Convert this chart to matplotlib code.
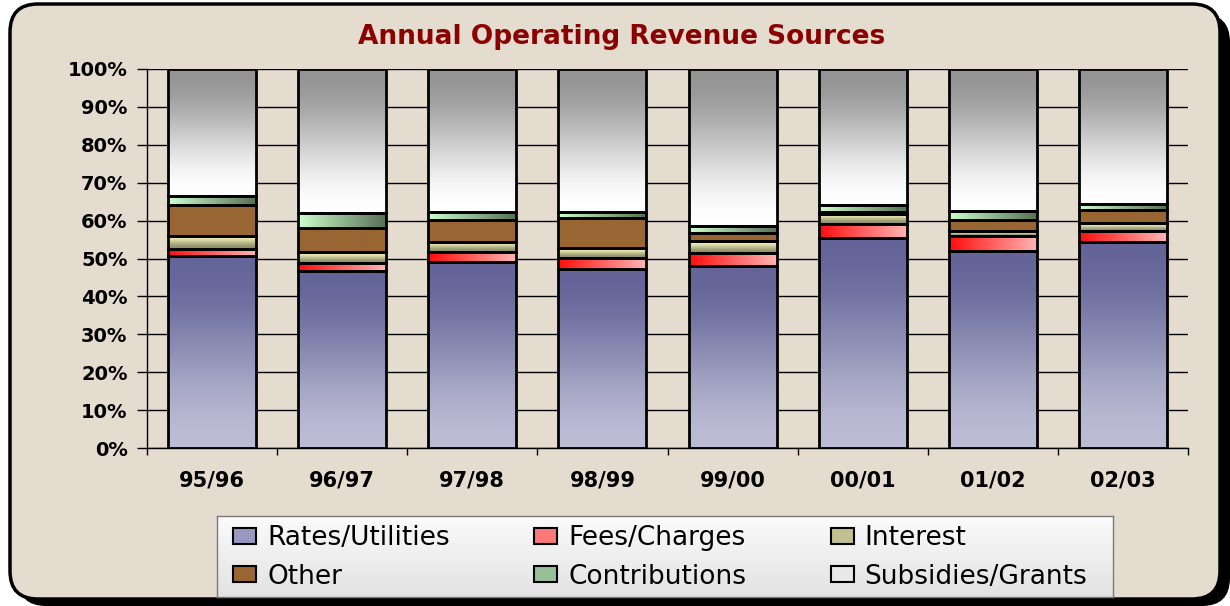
import numpy as np
import matplotlib.pyplot as plt
from matplotlib.colors import LinearSegmentedColormap
from matplotlib.patches import FancyBboxPatch, Patch
from matplotlib.transforms import IdentityTransform

# share of annual operating revenue, in percent
years = ['95/96', '96/97', '97/98', '98/99', '99/00', '00/01', '01/02', '02/03']
rates = [50.7, 46.8, 49.0, 47.2, 48.1, 55.5, 52.1, 54.3]
fees = [1.8, 1.9, 2.6, 3.0, 3.4, 3.5, 3.9, 3.0]
interest = [3.5, 2.9, 2.7, 2.6, 3.1, 2.8, 1.3, 2.0]
other = [8.1, 6.5, 5.9, 8.0, 2.2, 0.5, 2.9, 3.6]
contributions = [2.5, 4.0, 2.1, 1.5, 1.8, 1.9, 2.3, 1.4]
subsidies = [33.4, 37.9, 37.7, 37.7, 41.4, 35.8, 37.5, 35.7]

# name, values, gradient start, gradient end, direction, legend colour
series = [
    ('Rates/Utilities', rates, '#646498', '#bcbcd5', 'v', '#9898c0'),
    ('Fees/Charges', fees, '#ff0c0c', '#ffb4b4', 'h', '#ff7878'),
    ('Interest', interest, '#f6f6c0', '#8c8c66', 'v', '#c0c090'),
    ('Other', other, '#996633', '#996633', 'v', '#996633'),
    ('Contributions', contributions, '#ccffcc', '#567056', 'h', '#98c098'),
    ('Subsidies/Grants', subsidies, '#949494', '#ffffff', 'v', '#e8e8e8'),
]

W, H = 1230, 606
fig = plt.figure(figsize=(W / 100, H / 100), dpi=100)
fig.patch.set_facecolor('white')

# rounded panel with a drop shadow (pixel coordinates)
shadow = FancyBboxPatch((18, 0), 1212, 592, boxstyle='round,pad=0,rounding_size=28',
                        transform=IdentityTransform(), facecolor='black', edgecolor='none',
                        zorder=-3)
panel = FancyBboxPatch((10, 7), 1210, 595, boxstyle='round,pad=0,rounding_size=28',
                       transform=IdentityTransform(), facecolor='#e4dccf', edgecolor='black',
                       linewidth=2.5, zorder=-2)
fig.add_artist(shadow)
fig.add_artist(panel)

ax = fig.add_axes([147 / W, 1 - 448 / H, (1188 - 147) / W, (448 - 69) / H])
ax.set_facecolor('none')

t = np.linspace(0, 1, 400)
smooth = t * t * (3 - 2 * t)

x = np.arange(len(years))
bar_w = 0.676
bottom = np.zeros(len(years))
for name, vals, c0, c1, direction, _ in series:
    vals = np.array(vals, dtype=float)
    bars = ax.bar(x, vals, bar_w, bottom=bottom, facecolor='none',
                  edgecolor='black', linewidth=2, zorder=3)
    cmap = LinearSegmentedColormap.from_list(name, [c0, c1], N=512)
    if direction == 'v':
        grad = smooth.reshape(-1, 1)
    else:
        grad = t.reshape(1, -1)
    for p in bars.patches:
        x0, y0 = p.get_x(), p.get_y()
        ax.imshow(grad, extent=(x0, x0 + p.get_width(), y0, y0 + p.get_height()),
                  cmap=cmap, vmin=0, vmax=1, aspect='auto', interpolation='bilinear',
                  zorder=2)
    bottom += vals

ax.set_xlim(-0.5, len(years) - 0.5)
ax.set_ylim(0, 100)

ax.set_yticks(np.arange(0, 101, 10))
ax.set_yticklabels([f'{v}%' for v in range(0, 101, 10)])
ax.tick_params(axis='y', length=7, width=1, pad=7, labelsize=14)
for lab in ax.get_yticklabels():
    lab.set_fontweight('bold')
ax.yaxis.grid(True, color='black', linewidth=1)
ax.set_axisbelow(True)

ax.set_xticks(x)
ax.set_xticklabels(years, fontweight='bold', fontsize=15)
ax.set_xticks(np.arange(-0.5, len(years)), minor=True)
ax.tick_params(axis='x', which='major', length=0, pad=16)
ax.tick_params(axis='x', which='minor', length=5, width=1, direction='out')

for s in ['top', 'right']:
    ax.spines[s].set_visible(False)
for s in ['left', 'bottom']:
    ax.spines[s].set_linewidth(1)
    ax.spines[s].set_color('black')

fig.text(622 / W, 1 - 37 / H, 'Annual Operating Revenue Sources', ha='center', va='center',
         color='#8b0000', fontweight='bold', fontsize=19)

# legend box drawn separately (white to light grey) so its size follows the reference
lax = fig.add_axes([217 / W, 1 - 597 / H, 896 / W, 81 / H], zorder=4)
lax.imshow(t.reshape(-1, 1), cmap=LinearSegmentedColormap.from_list('lg', ['#fbfbfb', '#e2e2e2']),
           extent=(0, 1, 0, 1), aspect='auto', interpolation='bilinear')
lax.set_xticks([])
lax.set_yticks([])
for s in lax.spines.values():
    s.set_color('#7a7a7a')
    s.set_linewidth(1)

handles = {name: Patch(facecolor=lc, edgecolor='black', linewidth=1.5)
           for name, _, _, _, _, lc in series}
order = ['Rates/Utilities', 'Other', 'Fees/Charges', 'Contributions',
         'Interest', 'Subsidies/Grants']
leg = fig.legend([handles[n] for n in order], order, ncol=3, loc='upper left',
                 bbox_to_anchor=(233 / W, 1 - 525 / H),
                 fontsize=19, frameon=False, borderaxespad=0, borderpad=0,
                 handlelength=0.87, handleheight=0.57, handletextpad=0.42,
                 columnspacing=3.2, labelspacing=0.48)
leg.set_zorder(5)

fig.savefig('out.png', dpi=100)
